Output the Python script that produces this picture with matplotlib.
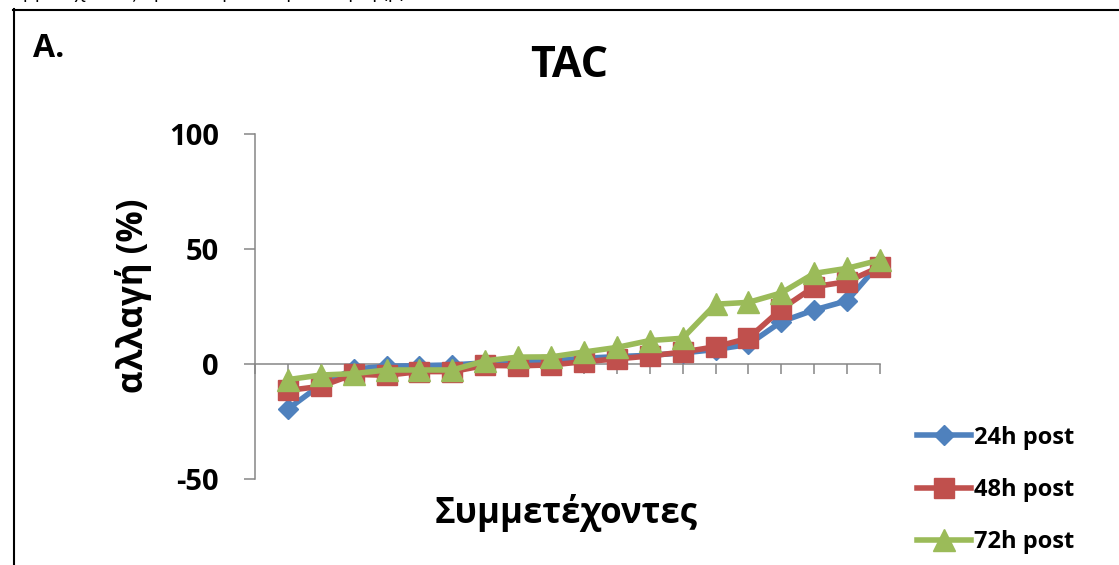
import matplotlib
matplotlib.use("Agg")
import matplotlib.pyplot as plt
from matplotlib.lines import Line2D

plt.rcParams['font.family'] = ['Open Sans', 'DejaVu Sans']

# Participants (sorted), percent change of TAC
participants = list(range(1, 20))
series_labels = ["24h post", "48h post", "72h post"]
change_24h = [-19.6, -9.0, -2.2, -1.0, -0.7, -0.4, 0.5, 1.0, 1.5, 2.5, 3.2,
              3.8, 4.8, 6.3, 8.5, 18.4, 23.5, 27.5, 44.0]
change_48h = [-11.5, -9.7, -4.5, -4.9, -3.3, -3.3, -0.6, -0.8, -0.4, 1.0, 2.2,
              3.5, 5.2, 7.5, 11.2, 23.9, 33.6, 35.8, 42.3]
change_72h = [-6.8, -4.8, -4.2, -2.6, -2.6, -2.6, 1.4, 3.0, 3.1, 5.2, 7.2,
              10.2, 11.2, 26.0, 26.8, 30.9, 39.4, 41.6, 45.2]
y_ticks = [-50, 0, 50, 100]

W, H = 1119, 565
fig = plt.figure(figsize=(W / 100, H / 100), dpi=100)


def fx(px):
    return px / W


def fy(py):
    return 1 - py / H


# plot area
x0, x1, ytop, ybot = 255, 880, 134, 479
ax = fig.add_axes([fx(x0), fy(ybot), fx(x1) - fx(x0), fy(ytop) - fy(ybot)])

axis_grey = "#868686"
styles = [
    dict(color="#4F81BD", marker="D", ms=10.5),
    dict(color="#C0504D", marker="s", ms=14),
    dict(color="#9BBB59", marker="^", ms=15.5),
]
handles = []
for vals, st, lab in zip([change_24h, change_48h, change_72h], styles, series_labels):
    h, = ax.plot(participants, vals, color=st["color"], lw=4.0, marker=st["marker"],
                 ms=st["ms"], mec=st["color"], mfc=st["color"], label=lab,
                 solid_joinstyle="round", clip_on=False, zorder=3)
    handles.append(h)

ax.set_xlim(0, 19)
ax.set_ylim(-50, 100)
ax.set_yticks(y_ticks)
ax.set_yticklabels([str(v) for v in y_ticks], fontsize=21, fontweight="bold")
ax.set_xticks(range(0, 20))
ax.set_xticklabels([])

for s in ["top", "right"]:
    ax.spines[s].set_visible(False)
ax.spines["bottom"].set_position(("data", 0))
for s in ["left", "bottom"]:
    ax.spines[s].set_color(axis_grey)
    ax.spines[s].set_linewidth(1.1)
ax.tick_params(axis="y", direction="out", length=8, width=1.1, color=axis_grey, pad=18)
ax.tick_params(axis="x", direction="out", length=7, width=1.1, color=axis_grey)

# titles and labels
fig.text(fx(569), fy(77), "TAC", fontsize=31, fontweight="bold", ha="center", va="baseline")
fig.text(fx(33), fy(57), "A.", fontsize=23, fontweight="bold", ha="left", va="baseline")
fig.text(fx(566), fy(523), "Συμμετέχοντες", fontsize=25, fontweight="bold",
         ha="center", va="baseline")
fig.text(fx(134), fy(296), "αλλαγή (%)", fontsize=25, fontweight="bold",
         ha="center", va="center", rotation=90)

# caption line above the frame (only its lowest part falls inside the page)
fig.text(fx(-1), fy(-1.8), "συμμετέχοντες πριν και μετά την άσκηση (ρ)", fontsize=14,
         ha="left", va="baseline")

# frame around the panel
fig.add_artist(Line2D([fx(13.5), fx(13.5)], [fy(9), fy(H + 5)], color="black", lw=1.5))
fig.add_artist(Line2D([fx(13), fx(W + 5)], [fy(9.5), fy(9.5)], color="black", lw=1.5))

leg = fig.legend(handles=handles, loc="center left", bbox_to_anchor=(fx(917), fy(490)),
                 frameon=False, handlelength=2.3, handletextpad=0.1,
                 labelspacing=1.2, borderpad=0, borderaxespad=0, numpoints=1,
                 prop=dict(weight="bold", size=17))

fig.savefig("out.png", dpi=100, facecolor="white")
